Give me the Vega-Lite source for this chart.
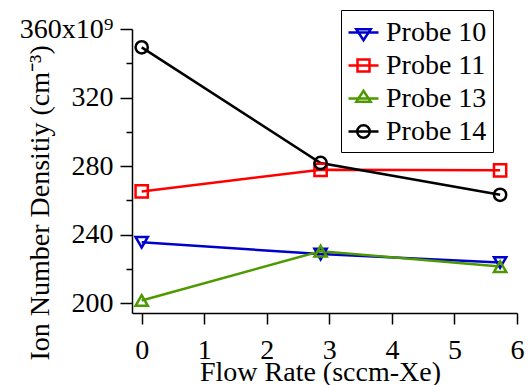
{
  "$schema": "https://vega.github.io/schema/vega-lite/v6.json",
  "autosize": "none",
  "width": 385,
  "height": 284,
  "padding": {"left": 132, "top": 29, "right": 12, "bottom": 72},
  "background": "white",
  "config": {
    "view": {"stroke": null},
    "font": "Liberation Serif",
    "axis": {"grid": false, "domainColor": "black", "domainWidth": 1.5, "tickColor": "black", "tickWidth": 1.5, "labelColor": "black", "titleColor": "black", "labelFont": "Liberation Serif", "titleFont": "Liberation Serif", "labelFontSize": 28, "titleFontSize": 28, "titleFontWeight": "normal"}
  },
  "data": {
    "values": [
      {"flow": 0, "density": 235.5, "probe": "Probe 10"},
      {"flow": 2.86, "density": 228.6, "probe": "Probe 10"},
      {"flow": 5.73, "density": 223.7, "probe": "Probe 10"},
      {"flow": 0, "density": 265.2, "probe": "Probe 11"},
      {"flow": 2.86, "density": 277.8, "probe": "Probe 11"},
      {"flow": 5.73, "density": 277.5, "probe": "Probe 11"},
      {"flow": 0, "density": 201.5, "probe": "Probe 13"},
      {"flow": 2.86, "density": 230.3, "probe": "Probe 13"},
      {"flow": 5.73, "density": 221.3, "probe": "Probe 13"},
      {"flow": 0, "density": 349.3, "probe": "Probe 14"},
      {"flow": 2.86, "density": 281.8, "probe": "Probe 14"},
      {"flow": 5.73, "density": 263.2, "probe": "Probe 14"}
    ]
  },
  "encoding": {
    "x": {
      "field": "flow", "type": "quantitative",
      "scale": {"domain": [-0.155, 6], "nice": false, "zero": false},
      "axis": {
        "title": "Flow Rate (sccm-Xe)",
        "values": [0, 1, 2, 3, 4, 5, 6],
        "tickSize": 11,
        "labelPadding": 34,
        "labelBaseline": "alphabetic",
        "labelFont": "Liberation Serif",
        "labelFontSize": 28,
        "labelFlush": false,
        "titleX": 188, "titleY": 67, "titleAlign": "center", "titleBaseline": "alphabetic", "titleAnchor": null
      }
    },
    "y": {
      "field": "density", "type": "quantitative",
      "scale": {"domain": [194.2, 360], "nice": false, "zero": false},
      "axis": {
        "title": "Ion Number Densitiy (cm⁻³)",
        "values": [200, 220, 240, 260, 280, 300, 320, 340, 360],
        "tickSize": {"condition": {"test": "datum.value % 40 === 0", "value": 12}, "value": 6},
        "labelExpr": "datum.value === 360 ? '360x10⁹' : (datum.value % 40 === 0 ? datum.label : '')",
        "labelPadding": 7,
        "labelFont": "Liberation Serif",
        "labelFontSize": 28,
        "labelFlush": false,
        "labelBaseline": "middle",
        "titleAngle": 270,
        "titleAlign": "left",
        "titleBaseline": "alphabetic",
        "titleX": -84, "titleY": 331
      }
    },
    "color": {
      "field": "probe", "type": "nominal",
      "scale": {"domain": ["Probe 10", "Probe 11", "Probe 13", "Probe 14"], "range": ["#0000cc", "#ff0000", "#4c9900", "#000000"]},
      "legend": {
        "title": null,
        "orient": "none",
        "legendX": 209, "legendY": -19,
        "fillColor": "white",
        "strokeColor": "black",
        "padding": 6,
        "labelFont": "Liberation Serif",
        "labelFontSize": 28,
        "labelColor": "black",
        "labelOffset": 6,
        "rowPadding": 2,
        "symbolSize": 900,
        "symbolStrokeWidth": 2.5,
        "symbolFillColor": "transparent",
        "encode": {
          "symbols": {
            "update": {
              "shape": {"signal": "datum.value === 'Probe 10' ? 'M-1,0H1M-0.48,-0.22H0.48L0,0.52Z' : datum.value === 'Probe 11' ? 'M-1,0H1M-0.4,-0.4H0.4V0.4H-0.4Z' : datum.value === 'Probe 13' ? 'M-1,0H1M-0.48,0.22H0.48L0,-0.52Z' : 'M-1,0H1M0.42,0A0.42,0.42 0 1,1 -0.42,0A0.42,0.42 0 1,1 0.42,0Z'"},
              "fill": {"value": "transparent"}
            }
          }
        }
      }
    }
  },
  "layer": [
    {"mark": {"type": "line", "strokeWidth": 2.5}},
    {
      "mark": {"type": "point", "filled": false, "strokeWidth": 2.5, "opacity": 1},
      "encoding": {
        "shape": {
          "condition": [
            {"test": "datum.probe === 'Probe 10'", "value": "triangle-down"},
            {"test": "datum.probe === 'Probe 11'", "value": "square"},
            {"test": "datum.probe === 'Probe 13'", "value": "triangle-up"}
          ],
          "value": "circle"
        },
        "size": {"value": 150}
      }
    }
  ]
}
